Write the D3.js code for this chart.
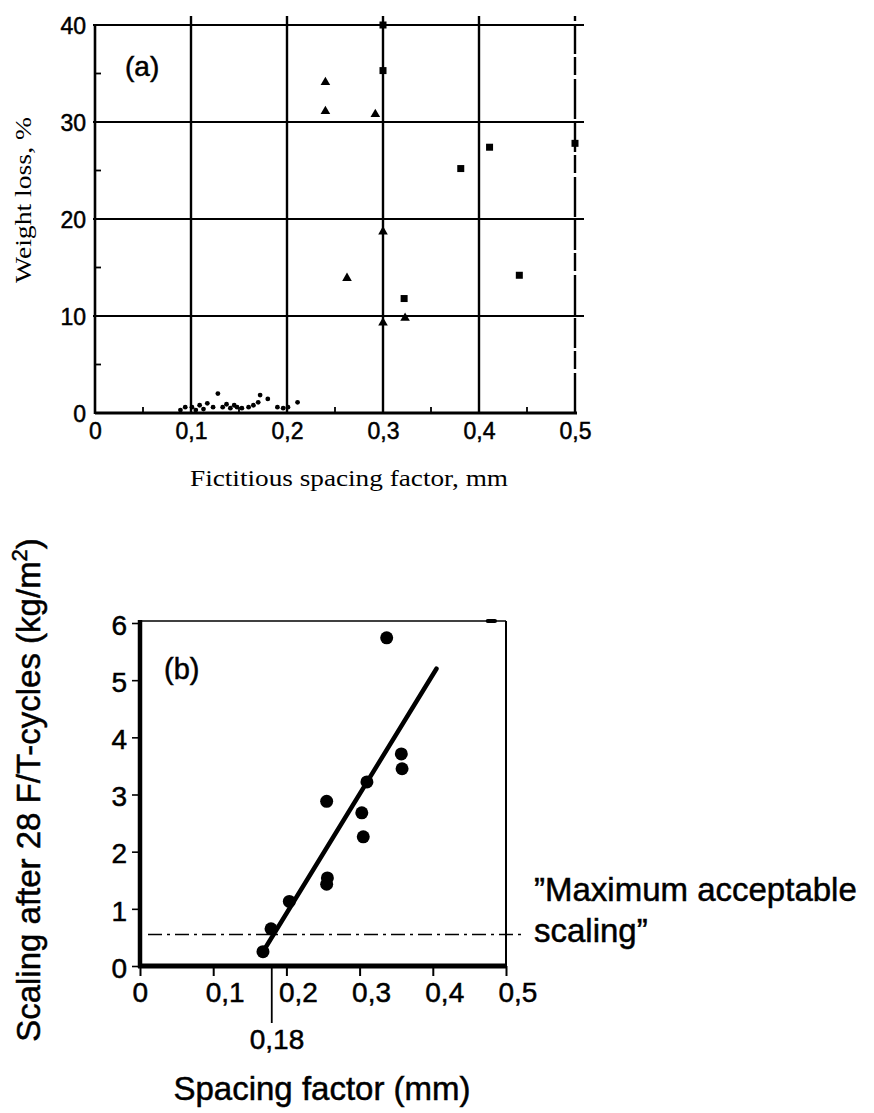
<!DOCTYPE html>
<html><head><meta charset="utf-8">
<script src="https://cdn.jsdelivr.net/npm/d3@7"></script>
<style>body{margin:0;background:#fff} svg{display:block}</style>
</head><body>
<script>
// ---------- Chart (a) data ----------
const aXTicks = [0, 0.1, 0.2, 0.3, 0.4, 0.5];
const aXTickLabels = ["0", "0,1", "0,2", "0,3", "0,4", "0,5"];
const aYTicks = [0, 10, 20, 30, 40];
const aYMinor = [5, 15, 25, 35];
const aXMinor = [0.05, 0.15, 0.25, 0.35, 0.45];
const aTriangles = [[0.24,34.1],[0.24,31.1],[0.292,30.8],[0.30,18.7],[0.2625,13.9],[0.30,9.3],[0.323,9.8]];
const aSquares = [[0.30,40],[0.30,35.3],[0.411,27.4],[0.381,25.2],[0.322,11.8],[0.442,14.2],[0.5,27.8]];
const aDots = [[0.089,0.3],[0.094,0.6],[0.101,0.6],[0.105,0.3],[0.109,0.8],[0.113,0.4],[0.117,1.0],[0.123,0.6],
  [0.128,2.0],[0.133,0.6],[0.137,0.9],[0.141,0.5],[0.145,0.8],[0.148,0.6],[0.153,0.5],[0.16,0.6],[0.165,0.8],
  [0.170,1.1],[0.172,1.85],[0.180,1.45],[0.19,0.6],[0.196,0.5],[0.201,0.6],[0.211,1.1]];
// ---------- Chart (b) data ----------
const bXTicks = [0, 0.1, 0.2, 0.3, 0.4, 0.5];
const bXTickLabels = ["0", "0,1", "0,2", "0,3", "0,4", "0,5"];
const bYTicks = [0, 1, 2, 3, 4, 5, 6];
const bPoints = [[0.168,0.25],[0.179,0.65],[0.204,1.13],[0.255,1.43],[0.256,1.54],[0.255,2.88],
  [0.303,2.68],[0.305,2.26],[0.310,3.22],[0.357,3.71],[0.358,3.45],[0.337,5.74]];
const bFit = [[0.168,0.25],[0.405,5.2]];
const bLimit = 0.55;
const bMarker = 0.18;

const W = 874, H = 1113;
const svg = d3.select("body").append("svg").attr("width", W).attr("height", H);
const SANS = "'Liberation Sans', Arial, Helvetica, sans-serif";
const SERIF = "'Liberation Serif', 'Times New Roman', serif";
const thicken = sel => sel.attr("stroke", "#000").attr("stroke-width", 0.5);

// ================= Chart (a) =================
const ax = d3.scaleLinear().domain([0, 0.5]).range([95, 575]);
const ay = d3.scaleLinear().domain([0, 40]).range([413, 25]);
const ga = svg.append("g");

ga.selectAll("line.hg").data(aYTicks.filter(d => d > 0)).join("line")
  .attr("x1", ax(0) - 2).attr("x2", ax(0.5) + 9)
  .attr("y1", d => ay(d)).attr("y2", d => ay(d))
  .attr("stroke", "#000").attr("stroke-width", 2.2);
ga.selectAll("line.vg").data(aXTicks.filter(d => d > 0)).join("line")
  .attr("x1", d => ax(d)).attr("x2", d => ax(d))
  .attr("y1", ay(0)).attr("y2", ay(40) - 9)
  .attr("stroke", "#000").attr("stroke-width", 2.4)
  .attr("stroke-dasharray", d => d === 0.5 ? "40,4,18,3,30,3" : null);
ga.append("line").attr("x1", ax(0)).attr("x2", ax(0)).attr("y1", ay(40)).attr("y2", ay(0) + 1)
  .attr("stroke", "#000").attr("stroke-width", 2.6);
ga.append("line").attr("x1", ax(0)).attr("x2", ax(0.5) + 2).attr("y1", ay(0)).attr("y2", ay(0))
  .attr("stroke", "#000").attr("stroke-width", 2.8);
ga.selectAll("line.ym").data(aYMinor).join("line")
  .attr("x1", ax(0)).attr("x2", ax(0) + 6).attr("y1", d => ay(d)).attr("y2", d => ay(d))
  .attr("stroke", "#000").attr("stroke-width", 1.8);
ga.selectAll("line.xm").data(aXMinor).join("line")
  .attr("x1", d => ax(d)).attr("x2", d => ax(d)).attr("y1", ay(0)).attr("y2", ay(0) - 6)
  .attr("stroke", "#000").attr("stroke-width", 1.8);

const aLeft = ga.append("g").attr("transform", `translate(${ax(0)},0)`)
  .call(d3.axisLeft(ay).tickValues(aYTicks).tickSize(0).tickPadding(9).tickFormat(d => d));
aLeft.select(".domain").remove();
aLeft.selectAll("text").attr("font-family", SANS).attr("font-size", 23).attr("fill", "#000").attr("dy", "0.36em").call(thicken);
const aBottom = ga.append("g").attr("transform", `translate(0,${ay(0)})`)
  .call(d3.axisBottom(ax).tickValues(aXTicks).tickSize(0).tickPadding(10).tickFormat((d, i) => aXTickLabels[i]));
aBottom.select(".domain").remove();
aBottom.selectAll("text").attr("font-family", SANS).attr("font-size", 23).attr("fill", "#000").call(thicken);

const triPath = d3.symbol().type(d3.symbolTriangle).size(40);
ga.selectAll("path.tri").data(aTriangles).join("path")
  .attr("d", triPath).attr("transform", d => `translate(${ax(d[0])},${ay(d[1])})`).attr("fill", "#000");
ga.selectAll("rect.sq").data(aSquares).join("rect")
  .attr("x", d => ax(d[0]) - 3.5).attr("y", d => ay(d[1]) - 3.5).attr("width", 7).attr("height", 7).attr("fill", "#000");
ga.selectAll("circle.dot").data(aDots).join("circle")
  .attr("cx", d => ax(d[0])).attr("cy", d => ay(d[1])).attr("r", 2.4).attr("fill", "#000");

ga.append("text").attr("x", 125).attr("y", 76).attr("font-family", SANS).attr("font-size", 28).text("(a)").call(thicken);
ga.append("text").attr("transform", "translate(31,200) rotate(-90)").attr("text-anchor", "middle")
  .attr("font-family", SERIF).attr("font-size", 24).attr("textLength", 166).attr("lengthAdjust", "spacingAndGlyphs")
  .text("Weight loss, %");
ga.append("text").attr("x", 190).attr("y", 486).attr("font-family", SERIF).attr("font-size", 24)
  .attr("textLength", 318).attr("lengthAdjust", "spacingAndGlyphs").text("Fictitious spacing factor, mm");

// ================= Chart (b) =================
const bx = d3.scaleLinear().domain([0, 0.5]).range([140, 506]);
const by = d3.scaleLinear().domain([0, 6]).range([966, 623]);
const gb = svg.append("g");

gb.append("line").attr("x1", bx(0)).attr("x2", bx(0.5)).attr("y1", by(6) - 2).attr("y2", by(6) - 2)
  .attr("stroke", "#000").attr("stroke-width", 1.6);
gb.append("line").attr("x1", bx(0.475)).attr("x2", bx(0.485)).attr("y1", by(6) - 2).attr("y2", by(6) - 2)
  .attr("stroke", "#000").attr("stroke-width", 4).attr("stroke-linecap", "round");
gb.append("line").attr("x1", bx(0.5)).attr("x2", bx(0.5)).attr("y1", by(6) - 2).attr("y2", by(0))
  .attr("stroke", "#000").attr("stroke-width", 2);

gb.append("line").attr("x1", bx(0) + 8).attr("x2", bx(0.5) + 16).attr("y1", by(bLimit)).attr("y2", by(bLimit))
  .attr("stroke", "#000").attr("stroke-width", 1.4).attr("stroke-dasharray", "14,5,3,5");

const bLeft = gb.append("g").attr("transform", `translate(${bx(0)},0)`)
  .call(d3.axisLeft(by).tickValues(bYTicks).tickSize(8).tickPadding(5).tickFormat(d => d));
bLeft.select(".domain").remove();
bLeft.selectAll("line").attr("stroke", "#000").attr("stroke-width", 1.6);
bLeft.selectAll("text").attr("font-family", SANS).attr("font-size", 28).attr("fill", "#000").attr("dy", "0.40em").call(thicken);
const bBottom = gb.append("g").attr("transform", `translate(0,${by(0)})`)
  .call(d3.axisBottom(bx).tickValues(bXTicks).tickSize(10).tickPadding(6).tickFormat((d, i) => bXTickLabels[i]));
bBottom.select(".domain").remove();
bBottom.selectAll("line").attr("stroke", "#000").attr("stroke-width", 2);
bBottom.selectAll("text").attr("font-family", SANS).attr("font-size", 28).attr("fill", "#000")
  .attr("text-anchor", "start").attr("dx", -8).call(thicken);
gb.append("line").attr("x1", bx(0)).attr("x2", bx(0)).attr("y1", by(6) - 3).attr("y2", by(0) + 2)
  .attr("stroke", "#000").attr("stroke-width", 4.5);
gb.append("line").attr("x1", bx(0) - 2).attr("x2", bx(0.5) + 1).attr("y1", by(0)).attr("y2", by(0))
  .attr("stroke", "#000").attr("stroke-width", 5);

gb.append("line").attr("x1", bx(bMarker)).attr("x2", bx(bMarker)).attr("y1", by(0)).attr("y2", by(0) + 57)
  .attr("stroke", "#000").attr("stroke-width", 1.8);
gb.append("text").attr("x", bx(bMarker) - 22).attr("y", 1049).attr("font-family", SANS).attr("font-size", 28).text("0,18").call(thicken);

gb.append("line").attr("x1", bx(bFit[0][0])).attr("y1", by(bFit[0][1]))
  .attr("x2", bx(bFit[1][0])).attr("y2", by(bFit[1][1]))
  .attr("stroke", "#000").attr("stroke-width", 4.5).attr("stroke-linecap", "round");

gb.selectAll("circle.p").data(bPoints).join("circle")
  .attr("cx", d => bx(d[0])).attr("cy", d => by(d[1])).attr("r", 6.5).attr("fill", "#000");

gb.append("text").attr("x", 164).attr("y", 679).attr("font-family", SANS).attr("font-size", 29).text("(b)").call(thicken);
const yt = gb.append("text").attr("transform", "translate(40,790) rotate(-90)").attr("text-anchor", "middle")
  .attr("font-family", SANS).attr("font-size", 33).call(thicken);
yt.append("tspan").text("Scaling after 28 F/T-cycles (kg/m");
yt.append("tspan").attr("font-size", 22).attr("dy", -13).text("2");
yt.append("tspan").attr("dy", 13).text(")");
gb.append("text").attr("x", 322).attr("y", 1100).attr("text-anchor", "middle").attr("font-family", SANS)
  .attr("font-size", 33).text("Spacing factor (mm)").call(thicken);
gb.append("text").attr("x", 534).attr("y", 901).attr("font-family", SANS).attr("font-size", 33).text("\u201DMaximum acceptable").call(thicken);
gb.append("text").attr("x", 534).attr("y", 942).attr("font-family", SANS).attr("font-size", 33).text("scaling\u201D").call(thicken);
</script>
</body></html>
